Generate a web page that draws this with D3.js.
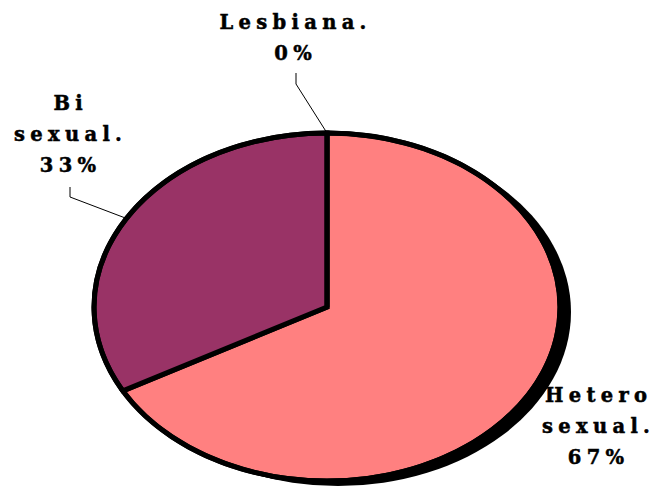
<!DOCTYPE html>
<html>
<head>
<meta charset="utf-8">
<script src="https://cdn.jsdelivr.net/npm/d3@7"></script>
<style>
  html, body { margin: 0; padding: 0; background: #fff; }
  svg { display: block; }
  .lbl { font-family: "DejaVu Serif", serif; font-weight: bold; font-size: 19.5px; fill: #000; stroke: #000; stroke-width: 0.5px; }
</style>
</head>
<body>
<svg id="chart" width="654" height="490"></svg>
<script>
// data
const categories = ["Hetero sexual", "Bi sexual", "Lesbiana"];
const values = [67, 33, 0];
const nameLines = [["Hetero", "sexual."], ["Bi", "sexual."], ["Lesbiana."]];
const colors = ["#FF8080", "#993366", "#FFFFCC"];

const width = 654, height = 490;
const cx = 327, cy = 307, rx = 233, ry = 174;
const spacing = 5.3;

const svg = d3.select("#chart");

// shadow
svg.append("ellipse")
    .attr("cx", cx + 11)
    .attr("cy", cy + 5)
    .attr("rx", rx)
    .attr("ry", ry)
    .attr("fill", "#000");

let pie = d3.pie().sort(null).value(d => d);
let arcs = pie(values);
let arc = d3.arc().innerRadius(0).outerRadius(1);

let g = svg.append("g")
    .attr("transform", `translate(${cx},${cy}) scale(${rx},${ry})`);

g.selectAll("path")
    .data(arcs)
    .enter()
    .append("path")
    .attr("d", arc)
    .attr("fill", (d, i) => colors[i])
    .attr("stroke", "#000")
    .attr("stroke-width", 5)
    .attr("stroke-linejoin", "miter")
    .attr("vector-effect", "non-scaling-stroke");

// outline on top
svg.append("ellipse")
    .attr("cx", cx)
    .attr("cy", cy)
    .attr("rx", rx)
    .attr("ry", ry)
    .attr("fill", "none")
    .attr("stroke", "#000")
    .attr("stroke-width", 5);

// labels: [x center, first baseline, leader line elbow]
const labelPos = [
    { x: 596, y: 402, leader: null },
    { x: 68, y: 110, leader: [70, 187, 70, 197] },
    { x: 293, y: 29, leader: [296, 73, 296, 84] }
];

function edgePoint(a) {
    return [cx + rx * Math.sin(a), cy - ry * Math.cos(a)];
}

arcs.forEach((d, i) => {
    let p = labelPos[i];
    let lines = nameLines[i].concat([values[i] + "%"]);
    let t = svg.append("text")
        .attr("class", "lbl")
        .attr("text-anchor", "middle")
        .attr("letter-spacing", spacing);
    lines.forEach((s, j) => {
        t.append("tspan")
            .attr("x", p.x + spacing / 2)
            .attr("y", p.y + j * 31)
            .text(s);
    });

    if (p.leader) {
        let mid = (d.startAngle + d.endAngle) / 2;
        let e = edgePoint(mid);
        svg.append("polyline")
            .attr("points", [[p.leader[0], p.leader[1]], [p.leader[2], p.leader[3]], e].map(q => q.join(",")).join(" "))
            .attr("fill", "none")
            .attr("stroke", "#000")
            .attr("stroke-width", 1);
    }
});
</script>
</body>
</html>
